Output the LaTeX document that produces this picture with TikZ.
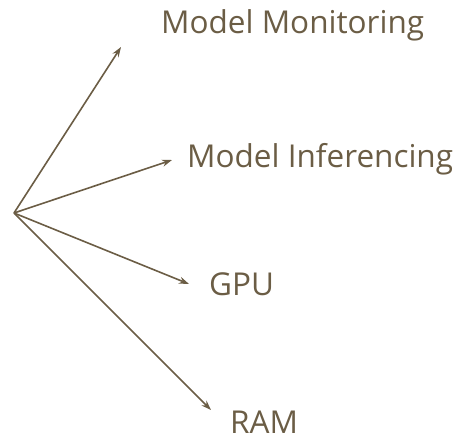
\documentclass[tikz,border=0pt]{standalone}
\usepackage{fontspec}
\setmainfont{Open Sans}
\usetikzlibrary{arrows.meta}
\definecolor{bark}{RGB}{107,93,69}
\tikzstyle{branch}=[-{Stealth[length=10pt,width=7pt]}, line width=1.6pt, bark]
\tikzstyle{leaf}=[anchor=base west, inner sep=0pt, text depth=0pt, text=bark, font=\fontsize{31.5}{36}\selectfont]

\begin{document}
\begin{tikzpicture}[x=1pt, y=-1pt]
\useasboundingbox (0,0) rectangle (463,440);

\coordinate (hub) at (14, 213);
\coordinate (t1) at (121, 47);
\coordinate (t2) at (172, 160);
\coordinate (t3) at (189, 284);
\coordinate (t4) at (211, 410);

\node[leaf] (monitoring)  at (161, 33)  {Model Monitoring};
\node[leaf] (inferencing) at (187, 167) {Model Inferencing};
\node[leaf] (gpu)         at (209, 295) {GPU};
\node[leaf] (ram)         at (230, 433) {RAM};

\draw[branch] (hub) -- (t1);
\draw[branch] (hub) -- (t2);
\draw[branch] (hub) -- (t3);
\draw[branch] (hub) -- (t4);

\end{tikzpicture}
\end{document}
